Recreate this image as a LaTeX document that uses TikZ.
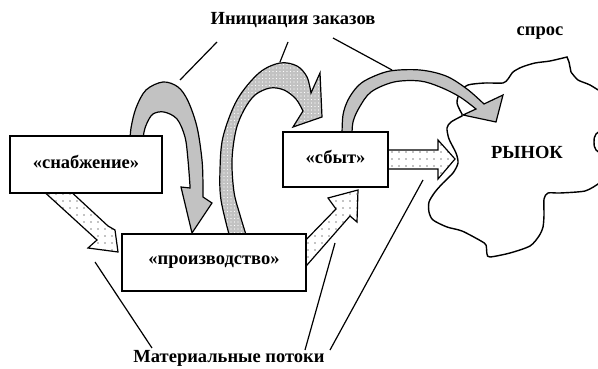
\documentclass[tikz,border=0pt]{standalone}
\usepackage{fontspec}
\setmainfont{Liberation Serif}
\usetikzlibrary{patterns.meta}
\definecolor{arrgrey}{gray}{0.76}
\begin{document}
\begin{tikzpicture}[x=1pt,y=-1pt,
  box/.style={draw, line width=1.6pt, fill=white, rectangle, inner sep=0pt, font=\fontsize{18.5}{20}\selectfont\bfseries},
  lbl/.style={font=\fontsize{18.5}{20}\selectfont\bfseries, inner sep=0pt},
  lead/.style={line width=1.2pt},
  solidarr/.style={draw, line width=1.2pt, fill=arrgrey, line join=miter},
  dotarr/.style={draw, line width=1.2pt, line join=miter, preaction={fill=white}, pattern={Dots[distance=7pt, radius=0.6pt]}, pattern color=black},
  greydotarr/.style={draw, line width=1.2pt, line join=miter, preaction={fill=arrgrey}, pattern={Dots[distance=3.5pt, radius=0.55pt]}, pattern color=white},
  cloud/.style={draw, line width=1.4pt, fill=white}
]
\path[use as bounding box] (0,0) rectangle (598,369);
\clip (0,0) rectangle (598,369);

% market outline
\path[cloud] plot[smooth, tension=0.45] coordinates {
 (462,114) (457,103) (460,92) (468,85) (485,83) (503,83) (508,79) (513,72) (522,67) (535,63) (550,61) (567,57)}
 -- (569,62) -- plot[smooth, tension=0.45] coordinates {(571,72) (578,80) (590,85) (606,95)}
 -- (612,120) -- plot[smooth, tension=0.6] coordinates {(606,128) (596,134) (594,142) (596,150) (606,156)}
 -- (612,175) -- plot[smooth, tension=0.45] coordinates {(598,184) (585,191) (560,193) (548,193) (544,199) (544,215) (543,227) (539,236) (530,246) (510,253) (490,257) (487,254) (486,245) (481,241) (462,231) (447,227) (433,220) (429,212) (429,202) (435,192) (443,183) (453,173) (458,163) (456,153) (449,139) (447,128) (451,122) (462,116)}
 -- cycle;

% Initiation arrows
\path[solidarr] plot[smooth, tension=0.55] coordinates {(130,142) (131,128) (136,108) (146,90) (163,82) (178,87) (188,101) (197,127) (202,160) (203,185) (203,197)}
  -- (212,203) -- (192,233) -- (181,187) -- (190,188)
  -- plot[smooth, tension=0.55] coordinates {(190,186) (188,160) (185,137) (177,119) (164,112) (153,114) (147,123) (144,132) (143,142)} -- cycle;

\path[greydotarr] plot[smooth, tension=0.55] coordinates {(230,238) (221,200) (220,170) (223,137) (237,100) (259,73) (280,63) (297,66) (307,77) (311,93)}
  -- (320,73) -- (322,117) -- (293,127) -- (303,111)
  -- plot[smooth, tension=0.55] coordinates {(303,111) (296,99) (284,90) (270,88) (255,95) (244,110) (236,130) (232,160) (234,192) (240,215) (247,238)} -- cycle;

\path[solidarr] plot[smooth, tension=0.55] coordinates {(342,136) (343,115) (348,100) (357,87) (368,79) (390,71) (420,70) (446,76) (467,89) (484,104)}
  -- (503,95) -- (496,122) -- (463,115) -- (476,109)
  -- plot[smooth, tension=0.55] coordinates {(476,109) (460,97) (440,87) (420,81) (394,82) (371,92) (359,108) (353,122) (352,136)} -- cycle;

% material flow arrows
\path[dotarr] (40,188) -- (97,240) -- (88,248) -- (118,252) -- (115,230) -- (108,226) -- (67,188) -- cycle;
\path[dotarr] (300,246) -- (336,209) -- (328,198) -- (358,190) -- (357,222) -- (350,216) -- (300,273) -- cycle;
\path[dotarr] (380,150) -- (438,150) -- (438,140) -- (455,159) -- (438,179) -- (438,169) -- (380,169) -- cycle;

% boxes
\node[box, minimum width=152pt, minimum height=57pt] (snab) at (86,164.5) {\raisebox{4.5pt}{«снабжение»}};
\node[box, minimum width=184pt, minimum height=57pt] (proiz) at (214,262.5) {\raisebox{4.5pt}{«производство»}};
\node[box, minimum width=105pt, minimum height=55pt] (sbyt) at (335.5,159.5) {\raisebox{5.5pt}{«сбыт»}};

% labels
\node[lbl] (init) at (293,20) {Инициация заказов};
\node[lbl] (spros) at (540,33) {спрос};
\node[lbl] (rynok) at (527,152) {РЫНОК};
\node[lbl] (mat) at (229,358) {Материальные потоки};

% leader lines
\coordinate (i1a) at (217,42); \coordinate (i1b) at (180,80);
\coordinate (i2a) at (288,42); \coordinate (i2b) at (280,62);
\coordinate (i3a) at (333,38); \coordinate (i3b) at (392,70);
\coordinate (m1a) at (152,348); \coordinate (m1b) at (95,262);
\coordinate (m2a) at (305,350); \coordinate (m2b) at (335,243);
\coordinate (m3a) at (330,350); \coordinate (m3b) at (423,180);
\draw[lead] (i1a) -- (i1b);
\draw[lead] (i2a) -- (i2b);
\draw[lead] (i3a) -- (i3b);
\draw[lead] (m1a) -- (m1b);
\draw[lead] (m2a) -- (m2b);
\draw[lead] (m3a) -- (m3b);
\end{tikzpicture}
\end{document}
